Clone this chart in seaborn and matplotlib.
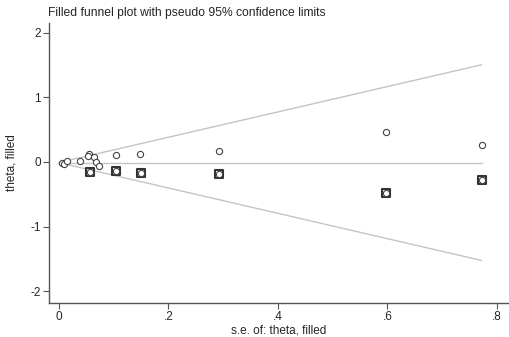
import matplotlib
matplotlib.use("Agg")
import matplotlib.pyplot as plt
import seaborn as sns
import numpy as np
import pandas as pd

sns.set_style("white")
plt.rcParams['font.family'] = ['Liberation Sans', 'DejaVu Sans']

# Observed studies
obs_se = [0.005, 0.010, 0.015, 0.039, 0.055, 0.054, 0.064, 0.067, 0.073, 0.104, 0.149, 0.293, 0.597, 0.772]
obs_theta = [-0.02, -0.03, 0.01, 0.01, 0.13, 0.09, 0.07, 0.00, -0.06, 0.11, 0.13, 0.17, 0.46, 0.26]
# Filled (imputed) studies
fill_se = [0.057, 0.104, 0.150, 0.293, 0.597, 0.772]
fill_theta = [-0.16, -0.14, -0.17, -0.19, -0.48, -0.28]

pooled = -0.01
se_max = 0.772
xticks = [0, 0.2, 0.4, 0.6, 0.8]
xticklabels = ["0", ".2", ".4", ".6", ".8"]
yticks = [-2, -1, 0, 1, 2]

fig = plt.figure(figsize=(5.1, 3.37), dpi=100)
ax = fig.add_axes([0.096, 0.101, 0.9, 0.831])

se_grid = np.array([0.0, se_max])
lines = pd.DataFrame({
    "se": np.concatenate([se_grid, se_grid, se_grid]),
    "theta": np.concatenate([pooled + 1.96 * se_grid, pooled - 1.96 * se_grid, pooled + 0 * se_grid]),
    "line": ["upper"] * 2 + ["lower"] * 2 + ["center"] * 2,
})
for name in ["upper", "lower", "center"]:
    sub = lines[lines["line"] == name]
    sns.lineplot(data=sub, x="se", y="theta", ax=ax, color="#c4c4c4", lw=1.0, estimator=None, sort=False)

all_df = pd.DataFrame({"se": obs_se + fill_se, "theta": obs_theta + fill_theta})
fill_df = pd.DataFrame({"se": fill_se, "theta": fill_theta})
sns.scatterplot(data=fill_df, x="se", y="theta", ax=ax, marker="s", s=26,
                facecolor="white", edgecolor="#333333", linewidth=1.5, zorder=3)
sns.scatterplot(data=all_df, x="se", y="theta", ax=ax, marker="o", s=20,
                facecolor="white", edgecolor="#444444", linewidth=0.8, zorder=4)

ax.set_xlim(-0.018, 0.82)
ax.set_ylim(-2.18, 2.15)
ax.set_xticks(xticks)
ax.set_xticklabels(xticklabels)
ax.set_yticks(yticks)
ax.set_yticklabels([str(t) for t in yticks])
for s in ["top", "right"]:
    ax.spines[s].set_visible(False)
for s in ["left", "bottom"]:
    ax.spines[s].set_color("#555555")
    ax.spines[s].set_linewidth(1.0)
ax.tick_params(axis="both", which="major", direction="out", length=4, width=0.8,
               color="#555555", labelsize=8.5, pad=2, bottom=True, left=True)
ax.set_xlabel("s.e. of: theta, filled", fontsize=8.5, labelpad=1)
ax.set_ylabel("theta, filled", fontsize=8.5, labelpad=9)
fig.text(0.094, 0.978, "Filled funnel plot with pseudo 95% confidence limits",
         fontsize=8.7, ha="left", va="top")

fig.savefig("out.png", dpi=100)
